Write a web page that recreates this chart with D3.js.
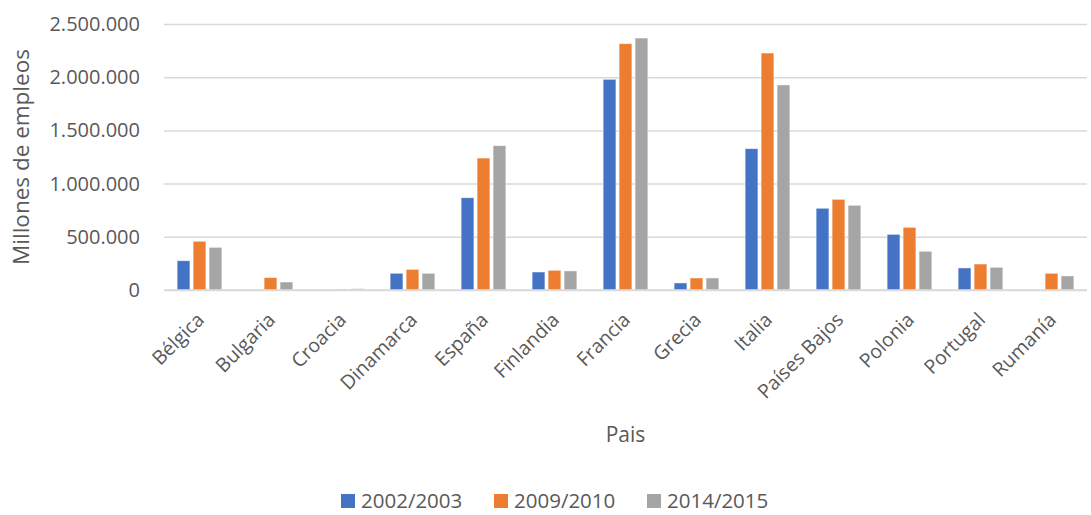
<!DOCTYPE html>
<html><head><meta charset="utf-8">
<script src="https://cdn.jsdelivr.net/npm/d3@7"></script>
<style>body{margin:0;background:#fff;} svg{display:block;font-family:"Open Sans",sans-serif;}</style>
</head><body><svg id="c" width="1091" height="515"></svg>
<script>
const countries = ["Bélgica","Bulgaria","Croacia","Dinamarca","España","Finlandia","Francia","Grecia","Italia","Países Bajos","Polonia","Portugal","Rumanía"];
const seriesNames = ["2002/2003","2009/2010","2014/2015"];
const s2002 = [275000,0,0,157000,867000,169000,1980000,66000,1328000,768000,523000,207000,0];
const s2009 = [458000,116000,8000,194000,1240000,185000,2315000,113000,2227000,852000,589000,244000,157000];
const s2014 = [401000,75000,12000,157000,1356000,179000,2368000,113000,1927000,796000,364000,213000,132000];
const yTicks = [0,500000,1000000,1500000,2000000,2500000];
const colors = ["#4472C4","#ED7D31","#A5A5A5"];
const seriesVals = [s2002,s2009,s2014];

const svg = d3.select("#c");
const L=164,R=1087,T=24,B=290;
const x0 = d3.scaleBand().domain(countries).range([L,R]).paddingInner(0.37).paddingOuter(0.185);
const x1 = d3.scaleBand().domain(seriesNames).range([0,x0.bandwidth()]).paddingInner(0.2);
const y = d3.scaleLinear().domain([0,2500000]).range([B,T]);
const fmt = v => d3.format(",")(v).replace(/,/g,".");

// gridlines
const yAxis = d3.axisLeft(y).tickValues(yTicks).tickSize(-(R-L)).tickFormat(fmt).tickPadding(24);
const ga = svg.append("g").attr("transform",`translate(${L},0)`).call(yAxis);
ga.select(".domain").remove();
ga.selectAll(".tick line").attr("stroke","#d9d9d9").attr("stroke-width",1.5);
ga.selectAll(".tick text").attr("fill","#595959").style("font-size","20px").style("font-family","'Open Sans',sans-serif");

// bars
const groups = svg.append("g").selectAll("g").data(countries).join("g")
  .attr("transform",d=>`translate(${x0(d)},0)`);
groups.selectAll("rect").data((d,i)=>seriesNames.map((s,j)=>({s,j,v:seriesVals[j][i]})).filter(e=>e.v>0))
  .join("rect")
  .attr("x",e=>x1(e.s)).attr("width",x1.bandwidth())
  .attr("y",e=>y(e.v)).attr("height",e=>B-y(e.v))
  .attr("fill",e=>colors[e.j]).attr("stroke","#fff").attr("stroke-opacity",0.6).attr("stroke-width",0.75);

// baseline
svg.append("line").attr("x1",L).attr("x2",R).attr("y1",B).attr("y2",B).attr("stroke","#d9d9d9").attr("stroke-width",1.5);

// x labels
const xAxis = d3.axisBottom(x0).tickSize(0).tickPadding(0);
const gx = svg.append("g").attr("transform",`translate(0,${B})`).call(xAxis);
gx.select(".domain").remove();
gx.selectAll(".tick text")
  .attr("fill","#595959").style("font-size","19.5px").style("font-family","'Open Sans',sans-serif")
  .attr("text-anchor","end").attr("dy",null).attr("y",null)
  .attr("transform","translate(6,31) rotate(-45)");

// axis titles
svg.append("text").attr("transform",`translate(29,${(T+B)/2}) rotate(-90)`).attr("text-anchor","middle")
  .attr("fill","#595959").style("font-size","22.5px").text("Millones de empleos");
svg.append("text").attr("x",(L+R)/2).attr("y",442).attr("text-anchor","middle")
  .attr("fill","#595959").style("font-size","21px").text("Pais");

// legend
const legX = [341,494,647];
const lg = svg.append("g").selectAll("g").data(seriesNames).join("g").attr("transform",(d,i)=>`translate(${legX[i]},494)`);
lg.append("rect").attr("width",14).attr("height",14).attr("fill",(d,i)=>colors[i]);
lg.append("text").attr("x",20).attr("y",14).attr("fill","#595959").style("font-size","20.5px").text(d=>d);
</script></body></html>
